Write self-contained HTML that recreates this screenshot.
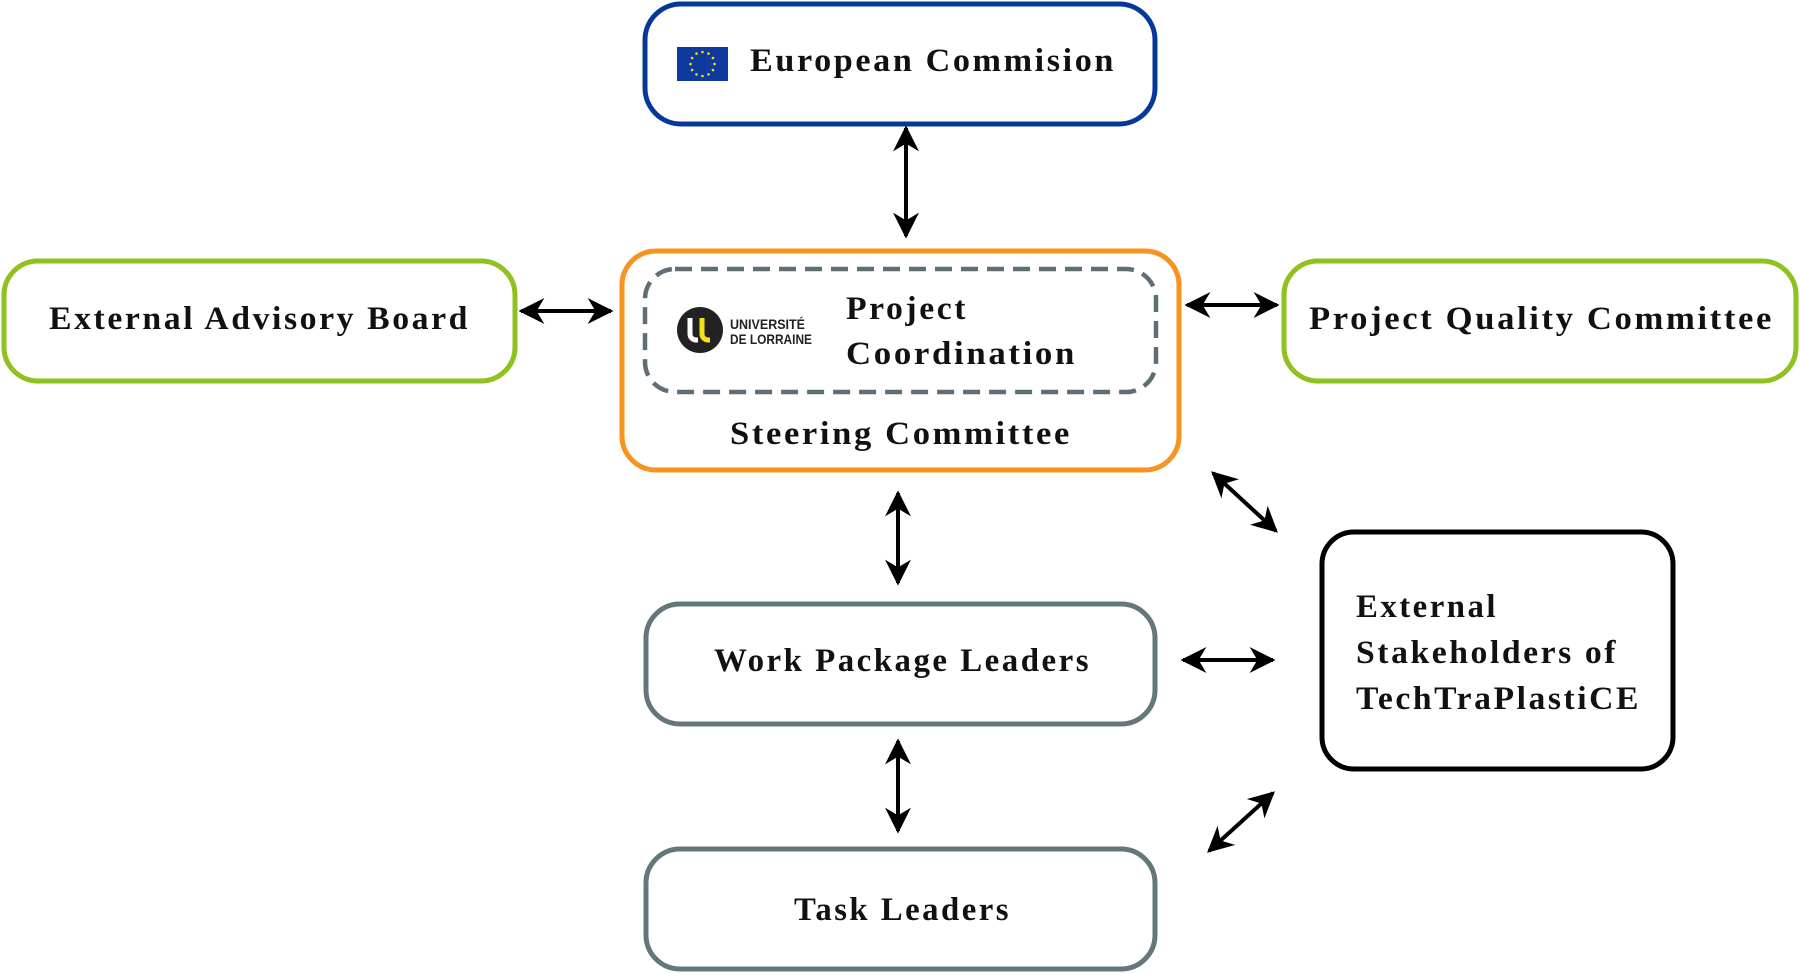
<!DOCTYPE html>
<html><head><meta charset="utf-8"><style>
html,body{margin:0;padding:0;background:#fff;}
body{width:1800px;height:973px;position:relative;overflow:hidden;}
svg{position:absolute;left:0;top:0;}
text{font-family:"Liberation Serif",serif;font-weight:bold;fill:#111;letter-spacing:2.5px;}
</style></head><body>
<svg width="1800" height="973" viewBox="0 0 1800 973">
<defs>
<marker id="a" viewBox="0 0 10 10" refX="9" refY="5" markerWidth="6.5" markerHeight="6.5" orient="auto-start-reverse" markerUnits="strokeWidth">
<path d="M0,0 L10,5 L0,10 L3,5 z" fill="#000"/></marker>
</defs>
<rect x="645" y="4" width="510" height="120" rx="36" fill="#fff" stroke="#06389a" stroke-width="5"/>
<rect x="622" y="251" width="557" height="219" rx="34" fill="#fff" stroke="#f7931e" stroke-width="5"/>
<rect x="645" y="269" width="511" height="123" rx="30" fill="none" stroke="#5f6e74" stroke-width="4.5" stroke-dasharray="17,9"/>
<rect x="4" y="261" width="511" height="120" rx="34" fill="#fff" stroke="#8dc21f" stroke-width="5"/>
<rect x="1284" y="261" width="512" height="120" rx="34" fill="#fff" stroke="#8dc21f" stroke-width="5"/>
<rect x="646" y="604" width="509" height="120" rx="34" fill="#fff" stroke="#66777c" stroke-width="5"/>
<rect x="646" y="849" width="509" height="120" rx="34" fill="#fff" stroke="#66777c" stroke-width="5"/>
<rect x="1322" y="532" width="351" height="237" rx="32" fill="#fff" stroke="#000" stroke-width="5"/>
<g stroke="#000" stroke-width="4" marker-start="url(#a)" marker-end="url(#a)">
<line x1="906" y1="128" x2="906" y2="236"/>
<line x1="898" y1="493" x2="898" y2="583"/>
<line x1="898" y1="741" x2="898" y2="831"/>
<line x1="521" y1="311" x2="611" y2="311"/>
<line x1="1187" y1="305" x2="1277" y2="305"/>
<line x1="1183" y1="660" x2="1273" y2="660"/>
<line x1="1213" y1="473" x2="1276" y2="531"/>
<line x1="1209" y1="851" x2="1273" y2="793"/>
</g>
<rect x="677" y="47" width="51" height="34" fill="#0d3a9c"/>
<g fill="#ffdd00">
<circle cx="702.5" cy="52" r="1.3"/><circle cx="702.5" cy="76" r="1.3"/><circle cx="690.5" cy="64" r="1.3"/><circle cx="714.5" cy="64" r="1.3"/>
<circle cx="708.5" cy="53.6" r="1.3"/><circle cx="712.9" cy="58" r="1.3"/><circle cx="712.9" cy="70" r="1.3"/><circle cx="708.5" cy="74.4" r="1.3"/>
<circle cx="696.5" cy="53.6" r="1.3"/><circle cx="692.1" cy="58" r="1.3"/><circle cx="692.1" cy="70" r="1.3"/><circle cx="696.5" cy="74.4" r="1.3"/>
</g>
<circle cx="700" cy="330" r="23" fill="#222"/>
<path d="M690,318 v16 a6,6 0 0 0 6,6 h2" stroke="#fff" stroke-width="5" fill="none"/>
<path d="M702,318 v16 a6,6 0 0 0 6,6 h2" stroke="#f5e11a" stroke-width="5" fill="none"/>
<text x="730" y="329" style="font-family:'Liberation Sans',sans-serif;font-size:14px;letter-spacing:0;fill:#222" textLength="75" lengthAdjust="spacingAndGlyphs">UNIVERSITÉ</text>
<text x="730" y="344" style="font-family:'Liberation Sans',sans-serif;font-size:14px;letter-spacing:0;fill:#222" textLength="82" lengthAdjust="spacingAndGlyphs">DE LORRAINE</text>
<text x="750" y="71" font-size="33" textLength="366" lengthAdjust="spacingAndGlyphs">European Commision</text>
<text x="846" y="319" font-size="33" textLength="122" lengthAdjust="spacingAndGlyphs">Project</text>
<text x="846" y="364" font-size="33" textLength="231" lengthAdjust="spacingAndGlyphs">Coordination</text>
<text x="730" y="444" font-size="33" textLength="342" lengthAdjust="spacingAndGlyphs">Steering Committee</text>
<text x="49" y="329" font-size="33" textLength="421" lengthAdjust="spacingAndGlyphs">External Advisory Board</text>
<text x="1309" y="329" font-size="33" textLength="465" lengthAdjust="spacingAndGlyphs">Project Quality Committee</text>
<text x="714" y="671" font-size="33" textLength="377" lengthAdjust="spacingAndGlyphs">Work Package Leaders</text>
<text x="794" y="920" font-size="33" textLength="217" lengthAdjust="spacingAndGlyphs">Task Leaders</text>
<text x="1356" y="617" font-size="33" textLength="142" lengthAdjust="spacingAndGlyphs">External</text>
<text x="1356" y="663" font-size="33" textLength="262" lengthAdjust="spacingAndGlyphs">Stakeholders of</text>
<text x="1356" y="709" font-size="33" textLength="285" lengthAdjust="spacingAndGlyphs">TechTraPlastiCE</text>
</svg>
</body></html>
